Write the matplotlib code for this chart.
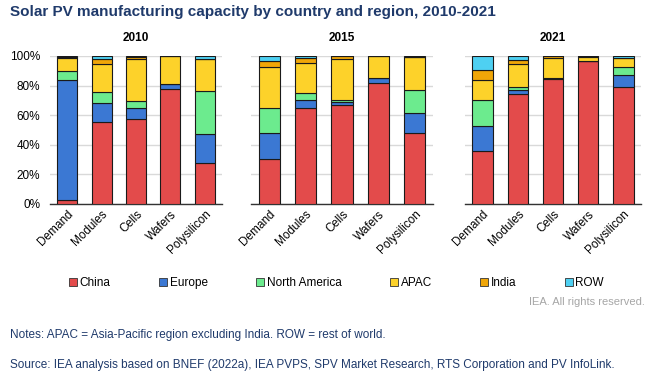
import numpy as np
import matplotlib
matplotlib.use("Agg")
import matplotlib.pyplot as plt
from matplotlib.lines import Line2D

plt.rcParams['font.family'] = ['Liberation Sans', 'DejaVu Sans']

stages = ["Demand", "Modules", "Cells", "Wafers", "Polysilicon"]
years = ["2010", "2015", "2021"]
regions = ["China", "Europe", "North America", "APAC", "India", "ROW"]
colors = ["#E34B4B", "#3B78D3", "#6CEB8E", "#FDD22A", "#F0A608", "#4ED0F2"]

# shares (%) per stage: Demand, Modules, Cells, Wafers, Polysilicon
china_2010 = [3, 55.3, 57.5, 78, 28]
europe_2010 = [80.6, 12.8, 7.2, 3.3, 19.4]
na_2010 = [6.3, 7.9, 5, 0, 29]
apac_2010 = [8.6, 18.4, 28.1, 18.7, 21.6]
india_2010 = [0.5, 3.4, 1.8, 0, 0]
row_2010 = [1, 2.2, 0.4, 0, 2]

china_2015 = [30.3, 64.6, 66.8, 82, 48.1]
europe_2015 = [17.6, 5.9, 2, 3, 13.4]
na_2015 = [16.7, 4.7, 1.5, 0, 15.4]
apac_2015 = [27.9, 20.2, 27.9, 15, 22.2]
india_2015 = [4, 3.3, 1.6, 0, 0]
row_2015 = [3.5, 1.3, 0.2, 0, 0.9]

china_2021 = [36, 74.2, 84.5, 96.5, 79]
europe_2021 = [16.5, 2.8, 0.5, 0.3, 8]
na_2021 = [17.7, 2.2, 0.4, 0, 5.3]
apac_2021 = [13.5, 15.7, 13, 2.8, 6.4]
india_2021 = [6.6, 2.7, 1.4, 0.4, 0]
row_2021 = [9.7, 2.4, 0.2, 0, 1.3]

data = {
    "2010": [china_2010, europe_2010, na_2010, apac_2010, india_2010, row_2010],
    "2015": [china_2015, europe_2015, na_2015, apac_2015, india_2015, row_2015],
    "2021": [china_2021, europe_2021, na_2021, apac_2021, india_2021, row_2021],
}

W, H = 658, 374
fig = plt.figure(figsize=(W / 100, H / 100), dpi=100)

panels = [(50, 222), (251, 433), (465, 641)]
y_top, y_bot = 56, 204
navy = "#1F3A6B"

for i, (yr, (x0, x1)) in enumerate(zip(years, panels)):
    ax = fig.add_axes([x0 / W, (H - y_bot) / H, (x1 - x0) / W, (y_bot - y_top) / H])
    x = np.arange(len(stages))
    bottom = np.zeros(len(stages))
    for vals, c in zip(data[yr], colors):
        vals = np.array(vals)
        ax.bar(x, vals, 0.58, bottom=bottom, color=c, edgecolor="#1a1a1a", linewidth=0.8, zorder=3)
        bottom += vals
    ax.set_xlim(-0.5, len(stages) - 0.5)
    ax.set_ylim(0, 100)
    ax.set_yticks(np.arange(0, 101, 20))
    ax.yaxis.grid(True, color="#D9D9D9", linewidth=1, zorder=0)
    ax.set_axisbelow(True)
    for s in ["top", "right", "left"]:
        ax.spines[s].set_visible(False)
    ax.spines["bottom"].set_color("#333333")
    ax.spines["bottom"].set_linewidth(1)
    ax.tick_params(axis="x", length=0, labelsize=8.5, pad=3)
    ax.tick_params(axis="y", length=0, labelsize=8.5, pad=7)
    ax.set_xticks(x)
    ax.set_xticklabels(stages, rotation=45, ha="right", rotation_mode="anchor", fontsize=8.5)
    if i == 0:
        ax.set_yticklabels([f"{v}%" for v in range(0, 101, 20)])
    else:
        ax.set_yticklabels([])
    ax.set_title(yr, fontsize=8.5, fontweight="bold", pad=11)

fig.text(10 / W, 1 - 12 / H, "Solar PV manufacturing capacity by country and region, 2010-2021",
         fontsize=11, fontweight="bold", color=navy, va="center", ha="left")

handles = [Line2D([], [], marker="s", linestyle="none", markersize=5.5, markerfacecolor=c,
                  markeredgecolor="#333333", markeredgewidth=0.6) for c in colors]
fig.legend(handles, regions, loc="center", bbox_to_anchor=(0.512, 1 - 283 / H), ncol=6,
           frameon=False, fontsize=8.5, handlelength=0.6, handletextpad=0.25, columnspacing=4.15)

fig.text(645 / W, 1 - 302 / H, "IEA. All rights reserved.", fontsize=8, color="#A6A6A6",
         ha="right", va="center")
fig.text(10 / W, 1 - 335 / H, "Notes: APAC = Asia-Pacific region excluding India. ROW = rest of world.",
         fontsize=8.5, color=navy, ha="left", va="center")
fig.text(10 / W, 1 - 365 / H,
         "Source: IEA analysis based on BNEF (2022a), IEA PVPS, SPV Market Research, RTS Corporation and PV InfoLink.",
         fontsize=8.5, color=navy, ha="left", va="center")

fig.savefig("out.png", dpi=100)
